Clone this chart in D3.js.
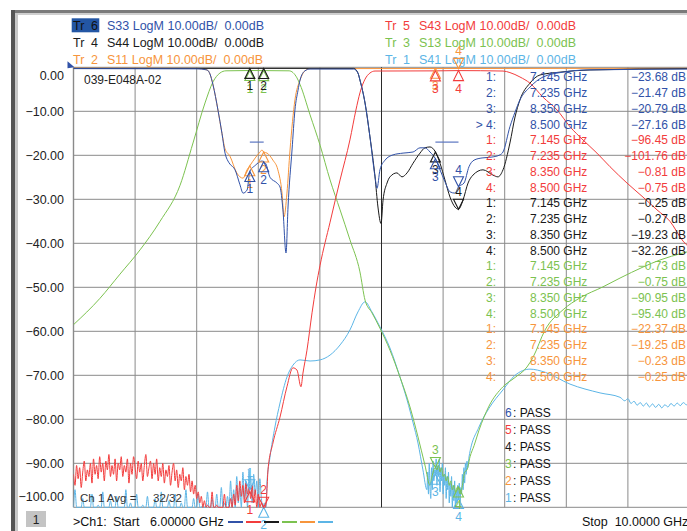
<!DOCTYPE html>
<html>
<head>
<meta charset="utf-8">
<script src="https://cdn.jsdelivr.net/npm/d3@7"></script>
<style>
  body { margin: 0; background: #fff; }
  text { font-family: "Liberation Sans", Arial, sans-serif; white-space: pre; }
</style>
</head>
<body>
<div id="chart-area"></div>
<script>
/*
*    VNA screen, 6 traces LogM, 6 - 10 GHz
*/

/* Data (GHz, dB) */

const s41 = [
  [6.00,-101],[6.01,-96],[6.02,-101],[6.03,-102],[6.04,-100.5],[6.05,-101],[6.06,-98],[6.07,-101.5],[6.08,-101],[6.09,-102],
  [6.10,-100],[6.11,-101],[6.12,-97],[6.13,-101.5],[6.14,-101],[6.15,-102],[6.16,-99.5],[6.17,-101],[6.18,-101.5],[6.19,-96.5],
  [6.20,-101],[6.21,-102],[6.22,-100.5],[6.23,-101],[6.24,-98.5],[6.25,-101.5],[6.26,-101],[6.27,-102],[6.28,-97.5],[6.29,-101],
  [6.30,-101.5],[6.31,-100],[6.32,-102],[6.33,-101],[6.34,-96],[6.35,-101.5],[6.36,-101],[6.37,-99],[6.38,-102],[6.39,-101],
  [6.40,-100.5],[6.41,-97],[6.42,-101.5],[6.43,-101],[6.44,-102],[6.45,-99.5],[6.46,-101],[6.47,-101.5],[6.48,-97.5],[6.49,-101],
  [6.50,-102],[6.51,-100],[6.52,-101],[6.53,-98],[6.54,-101.5],[6.55,-101],[6.56,-102],[6.57,-96.5],[6.58,-101],[6.59,-101.5],
  [6.60,-100],[6.61,-102],[6.62,-98.5],[6.63,-101],[6.64,-101.5],[6.65,-100.5],[6.66,-97],[6.67,-101],[6.68,-102],[6.69,-101],
  [6.70,-99],[6.71,-101.5],[6.72,-101],[6.73,-96],[6.74,-101],[6.75,-102],[6.76,-100],[6.77,-101],[6.78,-98],[6.79,-101.5],
  [6.80,-101],[6.81,-97],[6.82,-102],[6.83,-101],[6.84,-99.5],[6.85,-101],[6.86,-101.5],[6.87,-96.5],[6.88,-101],[6.89,-102],
  [6.90,-98],[6.91,-101],[6.92,-100.5],[6.93,-97],[6.94,-101.5],[6.95,-101],[6.96,-95.5],[6.97,-101],[6.98,-99],[6.99,-102],
  [7.00,-97.5],[7.01,-101],[7.02,-94],[7.03,-100],[7.04,-96],[7.05,-101],[7.06,-93],[7.07,-99],[7.08,-95.5],[7.09,-100.5],
  [7.10,-92],[7.11,-98],[7.12,-94],[7.13,-100],[7.14,-91.5],[7.145,-96],[7.15,-93],[7.16,-99],[7.17,-92.5],[7.18,-97],
  [7.19,-94],[7.20,-100],[7.21,-93.5],[7.22,-98],[7.23,-101],[7.24,-99],[7.25,-101.5],
  [7.256,-94.5],[7.276,-88.6],[7.308,-81.75],[7.341,-76.3],[7.386,-70.4],[7.425,-67.7],[7.471,-66.5],[7.536,-66.75],
  [7.601,-66.5],[7.666,-65.4],[7.731,-63.1],[7.795,-59.7],[7.847,-55.6],[7.893,-53.3],[7.938,-55.6],[7.99,-59],
  [8.055,-63.8],[8.12,-70.4],[8.166,-75.6],[8.205,-80.8],[8.237,-85.4],[8.269,-91.5],[8.295,-96],
  [8.30,-92],[8.305,-97],[8.31,-90],[8.315,-95.5],[8.32,-98],[8.325,-91],[8.33,-96],[8.335,-89.5],[8.34,-94],[8.345,-91.5],
  [8.35,-92.5],[8.355,-89],[8.36,-95],[8.365,-90.5],[8.37,-93],[8.375,-89],[8.38,-96.5],[8.385,-91],[8.39,-94],[8.395,-90],
  [8.40,-97],[8.405,-92.5],[8.41,-95],[8.415,-91],[8.42,-98],[8.425,-93],[8.43,-96],[8.435,-92],[8.44,-99],[8.445,-94.5],
  [8.45,-97.5],[8.455,-93],[8.46,-100],[8.465,-95],[8.47,-98.5],[8.475,-94],[8.48,-101],[8.485,-96.5],[8.49,-99],[8.495,-95],
  [8.50,-98],[8.505,-94.5],[8.51,-100],[8.515,-95.5],[8.52,-97],[8.525,-92.5],[8.53,-96],[8.535,-91],[8.54,-94.5],[8.545,-90],
  [8.55,-92.5],[8.555,-89.5],[8.56,-91],[8.568,-88.6],
  [8.633,-81.75],[8.698,-77.5],[8.789,-73.3],[8.867,-70],[8.964,-68.6],[9.062,-69.3],[9.224,-72],[9.419,-74],[9.549,-75],
  [9.58,-75.8],[9.60,-75.3],[9.62,-76.4],[9.64,-75.9],[9.66,-76.8],[9.68,-76.2],[9.70,-77],[9.72,-76.3],[9.74,-77.2],
  [9.76,-76.5],[9.78,-77.3],[9.80,-76.6],[9.82,-77.4],[9.84,-76.7],[9.86,-77.2],[9.88,-76.4],[9.90,-77],[9.92,-76.3],
  [9.94,-76.9],[9.96,-76.2],[9.98,-76.7],[10.0,-76.4]
];

const s11 = [
  [6.00,-0.2],[6.80,-0.25],[6.867,-0.6],[6.886,-1.5],[6.906,-4],[6.938,-9.7],[6.964,-15],[6.984,-18.5],[7.016,-20.2],
  [7.06,-24],[7.101,-25.2],[7.127,-23.3],[7.145,-22.37],[7.18,-20.6],[7.21,-19.3],[7.224,-18.8],[7.235,-19.25],
  [7.257,-19.5],[7.295,-21.1],[7.327,-23.3],[7.354,-28.6],[7.367,-34],[7.386,-28.6],[7.406,-18.8],[7.438,-7.4],
  [7.471,-2.9],[7.503,-0.8],[7.536,-0.3],[10.0,-0.23]
];

const s13 = [
  [6.00,-58.5],[6.172,-52.5],[6.302,-47],[6.432,-41.5],[6.562,-35],[6.692,-26.8],[6.776,-17.2],[6.854,-8.1],
  [6.906,-3.3],[6.951,-1.3],[6.99,-0.8],[7.145,-0.73],[7.235,-0.75],[7.40,-0.8],[7.451,-2.4],[7.471,-3.9],
  [7.536,-10.8],[7.601,-17.7],[7.666,-25.6],[7.731,-32.4],[7.795,-39.2],[7.860,-46.5],[7.893,-52.9],[7.938,-55.8],
  [7.99,-59.3],[8.055,-64.3],[8.12,-70.4],[8.185,-77.2],[8.237,-84],[8.282,-90.4],[8.315,-95],
  [8.325,-93.5],[8.335,-92],[8.35,-90.95],[8.36,-91.5],[8.37,-90.5],[8.38,-92],[8.39,-91],[8.40,-93],[8.41,-92.5],
  [8.42,-94],[8.43,-93],[8.44,-95],[8.45,-94],[8.46,-96],[8.47,-95],[8.48,-96.5],[8.49,-95.5],[8.497,-95.4],
  [8.51,-97],[8.52,-96],[8.53,-94],[8.54,-92],[8.555,-91.5],[8.575,-88.5],[8.601,-86],[8.633,-82.5],[8.698,-77],
  [8.789,-72.6],[8.867,-70.5],[8.945,-68.1],[8.984,-65.9],[9.062,-59.7],[9.179,-55.1],[9.289,-52.4],[9.438,-49.9],
  [9.549,-47.9],[9.698,-45.4],[9.808,-43.8],[9.958,-42.2],[10.0,-41.8]
];

const s44 = [
  [6.00,-0.25],[7.82,-0.25],[7.847,-1.3],[7.86,-2.9],[7.893,-8.1],[7.925,-15.8],[7.958,-24.9],[7.977,-31.75],
  [7.997,-35.5],[8.01,-30.2],[8.036,-26.3],[8.055,-24.9],[8.10,-24],[8.133,-24.9],[8.166,-24],[8.205,-21.8],
  [8.25,-19.5],[8.282,-18.3],[8.315,-18.1],[8.35,-19.23],[8.38,-21.8],[8.412,-25.6],[8.445,-29.5],[8.477,-31.75],
  [8.50,-32.26],[8.529,-30.2],[8.562,-26.3],[8.594,-24.5],[8.659,-23.3],[8.724,-24.5],[8.756,-24.9],[8.789,-23.3],
  [8.834,-17.2],[8.867,-11.3],[8.899,-7.4],[8.964,-3.6],[9.029,-1.75],[9.159,-1.1],[9.354,-0.6],[10.0,-0.3]
];

const s43 = [
  [6.00,-92.5],[6.01,-95],[6.02,-90.5],[6.03,-93.5],[6.04,-91],[6.05,-95.5],[6.06,-92],[6.07,-89.5],[6.08,-94],[6.09,-91.5],
  [6.10,-93],[6.11,-90],[6.12,-94.5],[6.13,-89],[6.14,-92.5],[6.15,-90.5],[6.16,-93.5],[6.17,-88.5],[6.18,-92],[6.19,-90],
  [6.20,-94],[6.21,-89.5],[6.22,-91.5],[6.23,-88],[6.24,-93],[6.25,-90.5],[6.26,-92.5],[6.27,-89],[6.28,-94],[6.29,-90],
  [6.30,-91.5],[6.31,-88.5],[6.32,-93],[6.33,-90.5],[6.34,-92],[6.35,-89],[6.36,-94.5],[6.37,-90],[6.38,-92.5],[6.39,-88.5],
  [6.40,-91],[6.41,-93.5],[6.42,-89.5],[6.43,-92],[6.44,-90],[6.45,-94],[6.46,-90.5],[6.47,-88],[6.48,-93],[6.49,-91],
  [6.50,-89.5],[6.51,-93.5],[6.52,-90],[6.53,-92.5],[6.54,-89],[6.55,-94],[6.56,-91],[6.57,-93],[6.58,-90],[6.59,-94.5],
  [6.60,-91.5],[6.61,-93],[6.62,-90.5],[6.63,-95],[6.64,-92],[6.65,-90],[6.66,-94],[6.67,-91.5],[6.68,-95.5],[6.69,-92.5],
  [6.70,-94],[6.71,-91],[6.72,-96],[6.73,-93],[6.74,-95],[6.75,-92.5],[6.76,-96.5],[6.77,-94],[6.78,-97],[6.79,-95],
  [6.80,-98],[6.81,-96.5],[6.82,-99],[6.83,-97.5],[6.84,-100.5],[6.85,-98.5],[6.86,-101],[6.87,-99.5],[6.88,-102],[6.89,-100],
  [6.90,-96.5],[6.91,-101],[6.92,-102],[6.93,-99.5],[6.94,-101.5],[6.95,-103],[6.96,-100],[6.97,-102],[6.98,-97],[6.99,-101],
  [7.00,-103],[7.01,-100.5],[7.02,-98],[7.03,-101.5],[7.04,-97],[7.05,-99.5],[7.06,-95],[7.07,-98.5],[7.08,-94],[7.09,-97.5],
  [7.10,-95],[7.11,-99],[7.12,-94.5],[7.13,-97],[7.14,-95.5],[7.145,-96.45],[7.15,-98],[7.16,-95],[7.17,-99],[7.18,-96],
  [7.19,-100],[7.20,-97],[7.21,-101],[7.22,-99],[7.235,-101.76],[7.245,-100.5],[7.255,-97],
  [7.263,-91.5],[7.295,-85.4],[7.341,-79.5],[7.386,-72.6],[7.425,-68.3],[7.451,-68.8],[7.477,-72.6],[7.49,-69.5],
  [7.516,-64.3],[7.549,-55.8],[7.575,-49.9],[7.601,-45],[7.666,-35.2],[7.731,-25.6],[7.795,-16.5],[7.834,-9.7],
  [7.86,-5.8],[7.893,-2.7],[7.925,-1.3],[7.958,-0.85],[8.35,-0.81],[8.5,-0.75],[8.789,-0.85],[8.834,-1.2],
  [8.899,-2.2],[8.964,-3.6],[9.049,-6.8],[9.14,-9.7],[9.224,-13.5],[9.308,-16.5],[9.399,-19.5],[9.484,-22.6],
  [9.594,-26.3],[9.698,-29.5],[9.789,-32.4],[9.873,-35],[9.958,-39.5],[10.0,-41]
];

const s33 = [
  [6.00,-0.3],[6.80,-0.35],[6.867,-0.6],[6.886,-1.5],[6.906,-4],[6.938,-9.7],[6.964,-15],[6.984,-19.5],[7.003,-21.3],
  [7.016,-22],[7.049,-23.3],[7.081,-26.7],[7.101,-28.6],[7.127,-27.9],[7.145,-23.68],[7.18,-22.3],[7.224,-21.3],
  [7.235,-21.47],[7.25,-22],[7.276,-25],[7.321,-26.3],[7.341,-27.2],[7.36,-32.4],[7.38,-42.2],[7.393,-31.75],
  [7.419,-18.8],[7.438,-9.7],[7.458,-5.2],[7.471,-2.9],[7.503,-0.8],[7.536,-0.4],[7.82,-0.4],[7.847,-1.3],
  [7.86,-2.9],[7.893,-8.1],[7.925,-15.8],[7.958,-24.9],[7.971,-27.5],[7.99,-23.3],[8.023,-21.1],[8.075,-19.9],
  [8.14,-19.5],[8.205,-19.25],[8.25,-18.3],[8.282,-18.3],[8.315,-19.25],[8.35,-20.79],[8.38,-23.3],[8.412,-26],
  [8.445,-28.3],[8.477,-28.6],[8.50,-27.16],[8.536,-26.3],[8.568,-22.6],[8.601,-21.1],[8.653,-20.6],[8.717,-20.4],
  [8.769,-19.9],[8.789,-19.25],[8.834,-13.5],[8.867,-10.2],[8.899,-7.4],[8.964,-4.5],[9.049,-2.2],[9.179,-1.1],
  [9.334,-0.6],[10.0,-0.4]
];

// marker readout (GHz / dB)
const markerFreqs = [7.145, 7.235, 8.350, 8.500];
const s33Markers = [-23.68, -21.47, -20.79, -27.16];
const s43Markers = [-96.45, -101.76, -0.81, -0.75];
const s44Markers = [-0.25, -0.27, -19.23, -32.26];
const s13Markers = [-0.73, -0.75, -90.95, -95.40];
const s11Markers = [-22.37, -19.25, -0.23, -0.25];
const s41Markers = [-96, -101, -92.5, -98];

const yTicks = [0, -10, -20, -30, -40, -50, -60, -70, -80, -90, -100];
const limitSpans = [[7.145, 7.235], [8.35, 8.5]];
const limitLevel = -17;

/* Colors */
const C = {
  s41: "#5cb5e6", s11: "#f7953c", s13: "#7cc250",
  s44: "#1a1a1a", s43: "#f23c3c", s33: "#3152a8"
};

/* Prep the screen */
const W = 687, H = 531;
const X0 = 73.5, X1 = 689.5, Y0 = 67.3, Y1 = 507.3;

const svg = d3.select("#chart-area").append("svg")
  .attr("width", W)
  .attr("height", H);

svg.append("rect").attr("width", W).attr("height", H).attr("fill", "#fff");

// window frame
svg.append("rect").attr("x", 13).attr("y", 10).attr("width", W - 13).attr("height", 3).attr("fill", "#7a7a7a");
svg.append("rect").attr("x", 15).attr("y", 13).attr("width", W - 15).attr("height", 2).attr("fill", "#cfcfcf");
svg.append("rect").attr("x", 11).attr("y", 10).attr("width", 4).attr("height", H - 10).attr("fill", "#555");
svg.append("rect").attr("x", 15).attr("y", 13).attr("width", 3).attr("height", H - 13).attr("fill", "#c8c8c8");

// scales
const x = d3.scaleLinear().domain([6, 10]).range([X0, X1]);
const y = d3.scaleLinear().domain([0, -100]).range([Y0, Y1]).clamp(true);

/* Grid */
const grid = svg.append("g");
const xTicks = d3.range(0, 11).map(i => 6 + i * 0.4);

grid.selectAll("line.h").data(yTicks).enter().append("line")
  .attr("x1", X0).attr("x2", X1)
  .attr("y1", d => y(d)).attr("y2", d => y(d))
  .attr("stroke", "#8a8a8a").attr("stroke-width", 1);

grid.selectAll("line.v").data(xTicks).enter().append("line")
  .attr("x1", d => x(d)).attr("x2", d => x(d))
  .attr("y1", Y0).attr("y2", Y1)
  .attr("stroke", (d, i) => i === 5 ? "#2a2a2a" : "#8a8a8a")
  .attr("stroke-width", (d, i) => i === 0 ? 1.4 : 1);

// y labels
svg.selectAll("text.ytick").data(yTicks).enter().append("text")
  .attr("x", 64)
  .attr("y", d => d === 0 ? 79.5 : (d === -100 ? 501 : y(d) + 4.5))
  .attr("text-anchor", "end")
  .attr("font-size", 12.5)
  .attr("fill", "#222")
  .text(d => d3.format(".2f")(d));

/* Header */
const headerLeft = [["6", "S33 LogM 10.00dB/  0.00dB", C.s33], ["4", "S44 LogM 10.00dB/  0.00dB", C.s44], ["2", "S11 LogM 10.00dB/  0.00dB", C.s11]];
const headerRight = [["5", "S43 LogM 10.00dB/  0.00dB", C.s43], ["3", "S13 LogM 10.00dB/  0.00dB", C.s13], ["1", "S41 LogM 10.00dB/  0.00dB", C.s41]];

svg.append("rect").attr("x", 71.7).attr("y", 18.3).attr("width", 27.6).attr("height", 14).attr("fill", "#2356a4");

function header(rows, x0, x1) {
  rows.forEach((r, i) => {
    const by = 29.5 + i * 17;
    const col = (i === 0 && x0 < 100) ? "#111" : r[2];
    svg.append("text").attr("x", x0).attr("y", by).attr("font-size", 12.5).attr("fill", col).text("Tr");
    svg.append("text").attr("x", x0 + 18).attr("y", by).attr("font-size", 12.5).attr("fill", col).text(r[0]);
    svg.append("text").attr("x", x1).attr("y", by).attr("font-size", 12.5).attr("fill", r[2]).text(r[1]);
  });
}
header(headerLeft, 73, 107);
header(headerRight, 385, 419);

/* Traces */
const traces = [
  { data: s41, color: C.s41, mk: s41Markers, dir: "duuu" },
  { data: s11, color: C.s11, mk: s11Markers, dir: "uuud" },
  { data: s13, color: C.s13, mk: s13Markers, dir: "uudu" },
  { data: s44, color: C.s44, mk: s44Markers, dir: "uuud" },
  { data: s43, color: C.s43, mk: s43Markers, dir: "uduu" },
  { data: s33, color: C.s33, mk: s33Markers, dir: "uuud" }
];

svg.append("clipPath").attr("id", "plot-clip")
  .append("rect").attr("x", X0).attr("y", Y0 - 2).attr("width", X1 - X0).attr("height", Y1 - Y0 + 3);

const line = d3.line()
  .x(d => x(d[0]))
  .y(d => y(d[1]))
  .curve(d3.curveMonotoneX);

const plot = svg.append("g").attr("clip-path", "url(#plot-clip)");

traces.forEach(t => {
  plot.append("path")
    .attr("d", line(t.data))
    .attr("fill", "none")
    .attr("stroke", t.color)
    .attr("stroke-width", 1)
    .attr("stroke-linejoin", "round");
});

// limit lines on S33
svg.selectAll("line.limit").data(limitSpans).enter().append("line")
  .attr("x1", d => x(d[0])).attr("x2", d => x(d[1]))
  .attr("y1", y(limitLevel)).attr("y2", y(limitLevel))
  .attr("stroke", "#5a74c0").attr("stroke-width", 1.2);

// reference level arrow
svg.append("path")
  .attr("d", `M${X0 - 6},${Y0 - 6} L${X0 + 1},${Y0} L${X0 - 6},${Y0 + 1} Z`)
  .attr("fill", C.s33);

/* Markers */
const mk = svg.append("g");
traces.forEach(t => {
  markerFreqs.forEach((f, i) => {
    const px = x(f), py = y(t.mk[i]);
    const up = t.dir[i] === "u";
    const tri = up
      ? `M${px},${py} L${px - 5},${py + 10} L${px + 5},${py + 10} Z`
      : `M${px},${py} L${px - 5},${py - 10} L${px + 5},${py - 10} Z`;
    mk.append("path").attr("d", tri)
      .attr("fill", "none").attr("stroke", t.color).attr("stroke-width", 1.1);
    mk.append("text")
      .attr("x", px).attr("y", up ? py + 22 : py - 13)
      .attr("text-anchor", "middle")
      .attr("font-size", 12)
      .attr("fill", t.color)
      .text(i + 1);
  });
});

/* Marker table */
const tableSets = [[s33Markers, C.s33], [s43Markers, C.s43], [s44Markers, C.s44], [s13Markers, C.s13], [s11Markers, C.s11]];
const rows = [];
tableSets.forEach((s, k) => {
  s[0].forEach((v, i) => rows.push({ n: (k === 0 && i === 3 ? "> " : "") + (i + 1) + ":", f: markerFreqs[i], v: v, c: s[1] }));
});

const tbl = svg.append("g").attr("font-size", 12);
rows.forEach((r, i) => {
  const by = 81.3 + i * 15.75;
  tbl.append("text").attr("x", 496).attr("y", by).attr("text-anchor", "end").attr("fill", r.c).text(r.n);
  tbl.append("text").attr("x", 530).attr("y", by).attr("fill", r.c).text(d3.format(".3f")(r.f) + " GHz");
  tbl.append("text").attr("x", 686).attr("y", by).attr("text-anchor", "end").attr("fill", r.c).text(d3.format(".2f")(r.v) + " dB");
});

/* Limit test results */
const passList = [["6", C.s33], ["5", C.s43], ["4", C.s44], ["3", C.s13], ["2", C.s11], ["1", C.s41]];
passList.forEach((p, i) => {
  const by = 417 + i * 16.9;
  svg.append("text").attr("x", 505).attr("y", by).attr("font-size", 12).attr("fill", p[1]).text(p[0]);
  svg.append("text").attr("x", 513).attr("y", by).attr("font-size", 12).attr("fill", "#111").text(": PASS");
});

/* Labels inside plot */
svg.append("text").attr("x", 84).attr("y", 83.5).attr("font-size", 12).attr("fill", "#222").text("039-E048A-02");
svg.append("text").attr("x", 80).attr("y", 502).attr("font-size", 11.5).attr("fill", "#333").text("Ch 1 Avg =");
svg.append("text").attr("x", 153).attr("y", 502).attr("font-size", 11.5).attr("fill", "#333").text("32/32");

/* Bottom bar */
svg.append("rect").attr("x", 26).attr("y", 511).attr("width", 20).attr("height", 16).attr("fill", "#c4c4c4");
svg.append("text").attr("x", 36).attr("y", 524).attr("text-anchor", "middle").attr("font-size", 12).attr("fill", "#222").text("1");
svg.append("text").attr("x", 73).attr("y", 526).attr("font-size", 12.5).attr("fill", "#111").text(">Ch1:");
svg.append("text").attr("x", 113).attr("y", 526).attr("font-size", 12.5).attr("fill", "#111").text("Start");
svg.append("text").attr("x", 150).attr("y", 526).attr("font-size", 12.5).attr("fill", "#111").text("6.00000 GHz");
[C.s33, C.s43, C.s44, C.s13, C.s11, C.s41].forEach((c, i) => {
  svg.append("line")
    .attr("x1", 228 + i * 18).attr("x2", 243 + i * 18)
    .attr("y1", 522).attr("y2", 522)
    .attr("stroke", c).attr("stroke-width", 2);
});
svg.append("text").attr("x", 582).attr("y", 526).attr("font-size", 12.5).attr("fill", "#111").text("Stop  10.0000 GHz");
</script>
</body>
</html>
